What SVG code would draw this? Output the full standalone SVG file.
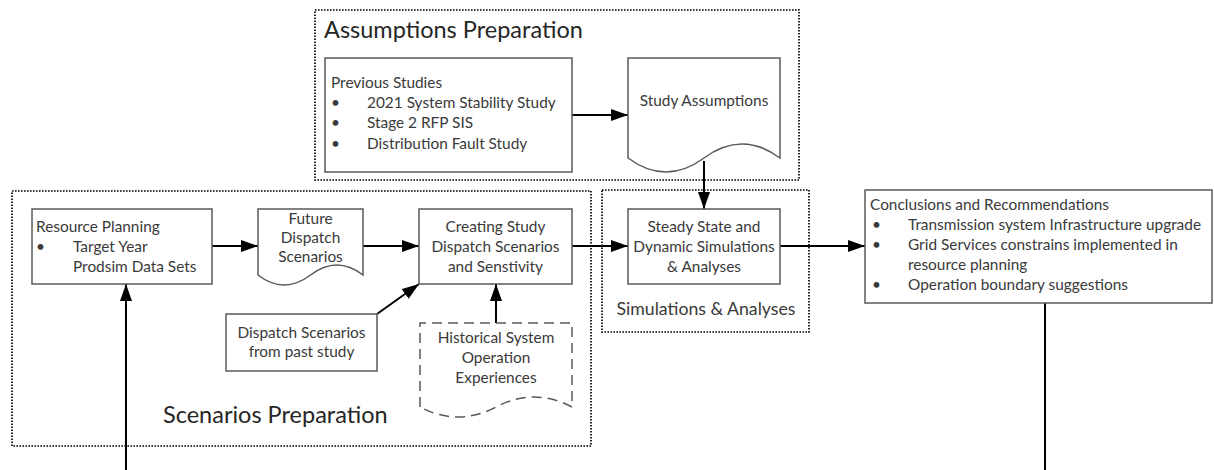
<svg xmlns="http://www.w3.org/2000/svg" width="1214" height="470" viewBox="0 0 1214 470">
<style>
  .grp { fill: none; stroke: #000; stroke-width: 1.7; stroke-dasharray: 1.6 1.4; }
  .box { fill: #fff; stroke: #595959; stroke-width: 1.5; }
  .dash { fill: #fff; stroke: #595959; stroke-width: 1.5; stroke-dasharray: 10 6; }
  .t { font-family: Lato, "Liberation Sans", sans-serif; font-size: 15.4px; fill: #3a3a3a; }
  .c { text-anchor: middle; }
  .title { font-family: Lato, "Liberation Sans", sans-serif; font-size: 23.5px; fill: #262626; }
  .sub { font-family: Lato, "Liberation Sans", sans-serif; font-size: 17.7px; fill: #3a3a3a; }
  .conn { fill: none; stroke: #000; stroke-width: 2; }
</style>
<defs>
  <marker id="ah" markerUnits="userSpaceOnUse" markerWidth="18" markerHeight="12" refX="17" refY="6" orient="auto">
    <path d="M0,0 L17,6 L0,12 Z" fill="#000"/>
  </marker>
</defs>
<rect width="1214" height="470" fill="#fff"/>

<g id="group-assumptions">
  <rect class="grp" x="315" y="10" width="484" height="170"/>
  <text class="title" x="324" y="38">Assumptions Preparation</text>
</g>
<g id="group-scenarios">
  <rect class="grp" x="12" y="191" width="579" height="255"/>
  <text class="title" x="163" y="423">Scenarios Preparation</text>
</g>
<g id="group-simulations">
  <rect class="grp" x="602" y="190" width="207" height="142"/>
  <text class="sub c" x="706" y="315">Simulations &amp; Analyses</text>
</g>

<g id="connectors">
  <path class="conn" d="M572,115 H628" marker-end="url(#ah)"/>
  <path class="conn" d="M704,161 V209" marker-end="url(#ah)"/>
  <path class="conn" d="M212,246 H258" marker-end="url(#ah)"/>
  <path class="conn" d="M363,246 H419" marker-end="url(#ah)"/>
  <path class="conn" d="M572,246 H628" marker-end="url(#ah)"/>
  <path class="conn" d="M780,246 H865" marker-end="url(#ah)"/>
  <path class="conn" d="M377,314 L419,284" marker-end="url(#ah)"/>
  <path class="conn" d="M496,323 V284" marker-end="url(#ah)"/>
  <path class="conn" d="M126,470 V284" marker-end="url(#ah)"/>
  <path class="conn" d="M1045,303 V470"/>
</g>

<g id="previous-studies">
  <rect class="box" x="325" y="58" width="247" height="114"/>
  <text class="t" x="331" y="88">Previous Studies</text>
  <text class="t" x="331" y="108">•</text>
  <text class="t" x="367" y="108">2021 System Stability Study</text>
  <text class="t" x="331" y="128">•</text>
  <text class="t" x="367" y="128">Stage 2 RFP SIS</text>
  <text class="t" x="331" y="149">•</text>
  <text class="t" x="367" y="149">Distribution Fault Study</text>
</g>

<g id="study-assumptions">
  <path class="box" d="M628,158 V58 H780 V158 Q742,130 704,158 Q666,186 628,158 Z"/>
  <text class="t c" x="704" y="106">Study Assumptions</text>
</g>

<g id="resource-planning">
  <rect class="box" x="32" y="209" width="180" height="75"/>
  <text class="t" x="36" y="232">Resource Planning</text>
  <text class="t" x="36" y="252">•</text>
  <text class="t" x="73" y="252">Target Year</text>
  <text class="t" x="73" y="272">Prodsim Data Sets</text>
</g>

<g id="future-dispatch">
  <path class="box" d="M258,275 V209 H363 V275 Q337,255 310.5,275 Q284,295 258,275 Z"/>
  <text class="t c" x="310.5" y="224">Future</text>
  <text class="t c" x="310.5" y="243">Dispatch</text>
  <text class="t c" x="310.5" y="262">Scenarios</text>
</g>

<g id="creating-study">
  <rect class="box" x="419" y="209" width="153" height="75"/>
  <text class="t c" x="495.5" y="232">Creating Study</text>
  <text class="t c" x="495.5" y="252">Dispatch Scenarios</text>
  <text class="t c" x="495.5" y="272">and Senstivity</text>
</g>

<g id="dispatch-past">
  <rect class="box" x="226" y="314" width="151" height="57"/>
  <text class="t c" x="301.5" y="338">Dispatch Scenarios</text>
  <text class="t c" x="301.5" y="357">from past study</text>
</g>

<g id="historical">
  <path class="dash" d="M420,407 V323 H572 V407 Q534,387 496,407 Q458,427 420,407 Z"/>
  <text class="t c" x="496" y="343">Historical System</text>
  <text class="t c" x="496" y="363">Operation</text>
  <text class="t c" x="496" y="383">Experiences</text>
</g>

<g id="steady-state">
  <rect class="box" x="628" y="209" width="152" height="75"/>
  <text class="t c" x="704" y="232">Steady State and</text>
  <text class="t c" x="704" y="252">Dynamic Simulations</text>
  <text class="t c" x="704" y="272">&amp; Analyses</text>
</g>

<g id="conclusions">
  <rect class="box" x="865" y="190" width="347" height="113"/>
  <text class="t" x="870" y="210">Conclusions and Recommendations</text>
  <text class="t" x="872" y="230">•</text>
  <text class="t" x="908" y="230">Transmission system Infrastructure upgrade</text>
  <text class="t" x="872" y="250">•</text>
  <text class="t" x="908" y="250">Grid Services constrains implemented in</text>
  <text class="t" x="908" y="270">resource planning</text>
  <text class="t" x="872" y="290">•</text>
  <text class="t" x="908" y="290">Operation boundary suggestions</text>
</g>
</svg>
